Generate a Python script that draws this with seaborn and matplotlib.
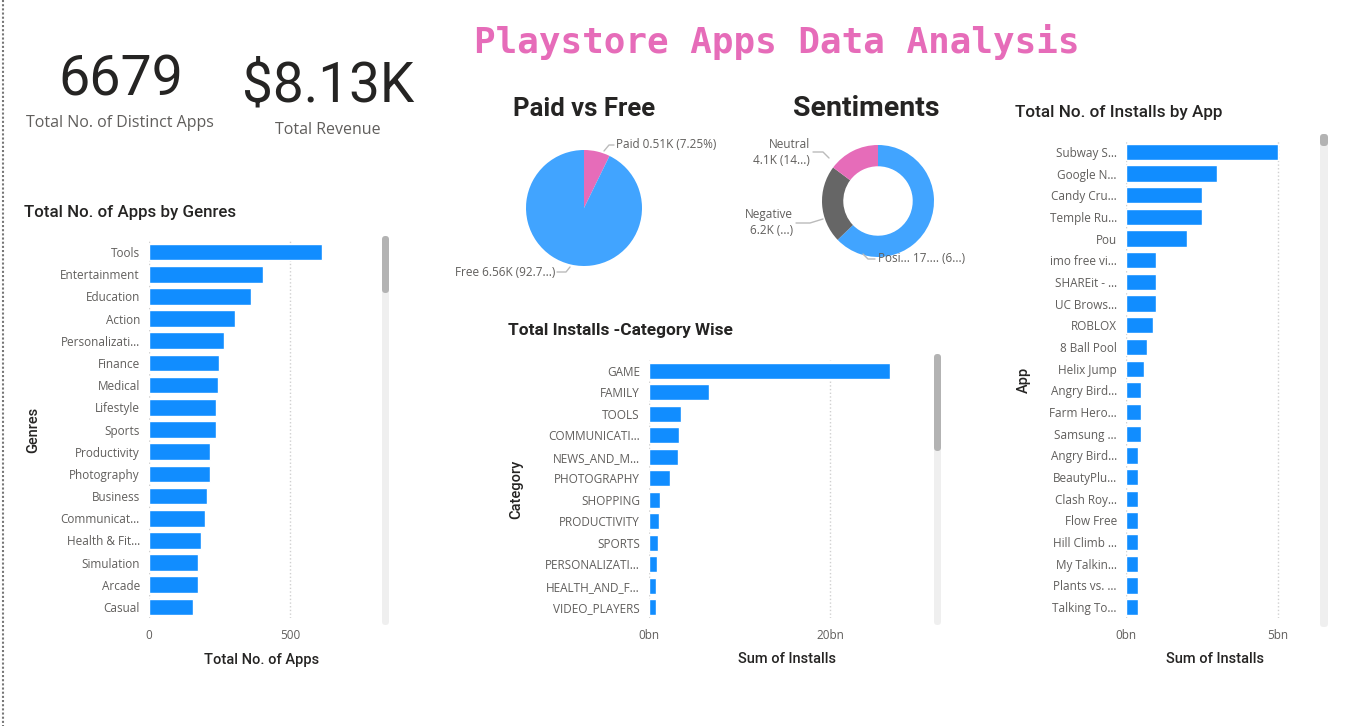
import numpy as np
import pandas as pd
import matplotlib
matplotlib.use('Agg')
import matplotlib.pyplot as plt
import seaborn as sns
from matplotlib.lines import Line2D
from matplotlib.patches import FancyBboxPatch

# ---- data ----
genres = ['Tools', 'Entertainment', 'Education', 'Action', 'Personalizati…', 'Finance', 'Medical',
          'Lifestyle', 'Sports', 'Productivity', 'Photography', 'Business', 'Communicat…',
          'Health & Fit…', 'Simulation', 'Arcade', 'Casual']
genre_apps = [611, 402, 360, 306, 264, 249, 246, 238, 237, 217, 215, 204, 197, 183, 175, 172, 155]

categories = ['GAME', 'FAMILY', 'TOOLS', 'COMMUNICATI…', 'NEWS_AND_M…', 'PHOTOGRAPHY', 'SHOPPING',
              'PRODUCTIVITY', 'SPORTS', 'PERSONALIZATI…', 'HEALTH_AND_F…', 'VIDEO_PLAYERS']
category_installs = [26.6, 6.6, 3.5, 3.3, 3.15, 2.35, 1.25, 1.15, 1.0, 0.9, 0.75, 0.75]  # bn

apps = ['Subway S…', 'Google N…', 'Candy Cru…', 'Temple Ru…', 'Pou', 'imo free vi…', 'SHAREit - …',
        'UC Brows…', 'ROBLOX', '8 Ball Pool', 'Helix Jump', 'Angry Bird…', 'Farm Hero…', 'Samsung …',
        'Angry Bird…', 'BeautyPlu…', 'Clash Roy…', 'Flow Free', 'Hill Climb …', 'My Talkin…',
        'Plants vs. …', 'Talking To…']
app_installs = [5.0, 3.0, 2.5, 2.5, 2.0, 1.0, 1.0, 1.0, 0.9, 0.7, 0.6, 0.5, 0.5, 0.5,
                0.4, 0.4, 0.4, 0.4, 0.4, 0.4, 0.4, 0.4]  # bn

pay_types = ['Paid', 'Free']
pay_counts = [0.513, 6.56]  # K

sentiments = ['Positive', 'Negative', 'Neutral']
sentiment_counts = [17.4, 6.2, 4.1]  # K

total_apps = '6679'
total_revenue = '$8.13K'

BLUE = '#118DFF'
PIE_BLUE = '#41A4FF'
PINK = '#E66CB9'
GREY = '#666666'
TXT = '#605E5C'
DARK = '#252423'

sns.set_theme(style='white')
plt.rcParams['font.family'] = ['Open Sans', 'DejaVu Sans']

W, H = 1345, 726
fig = plt.figure(figsize=(W / 100, H / 100), dpi=100)
fig.patch.set_facecolor('white')


def box(l, t, r, b):
    return [l / W, 1 - b / H, (r - l) / W, (b - t) / H]


def ftext(x, y, s, **kw):
    fig.text(x / W, 1 - y / H, s, **kw)


def fline(xs, ys, **kw):
    fig.add_artist(Line2D([x / W for x in xs], [1 - y / H for y in ys],
                          transform=fig.transFigure, **kw))


def scrollbar(x0, x1, top, bottom, thumb_bottom):
    for t, b, c in [(top, bottom, '#EFEFEF'), (top, thumb_bottom, '#B3B3B3')]:
        p = FancyBboxPatch((x0 / 100, (H - b) / 100), (x1 - x0) / 100, (b - t) / 100,
                           boxstyle='round,pad=0,rounding_size=0.035',
                           transform=fig.dpi_scale_trans, facecolor=c, edgecolor='none')
        fig.add_artist(p)


def hbar(rect, values, labels, xmax, ticks, fmt, xlabel, ylabel, ylab_dx, xlab_dy):
    ax = fig.add_axes(rect)
    df = pd.DataFrame({'pos': range(len(values)), 'val': values})
    sns.barplot(data=df, x='val', y='pos', orient='h', color=BLUE, saturation=1,
                width=0.75, errorbar=None, ax=ax)
    ax.set_yticks(range(len(labels)))
    ax.set_yticklabels(labels)
    ax.set_xlim(0, xmax)
    ax.set_xticks(ticks)
    ax.set_xticklabels([fmt(t) for t in ticks])
    ax.tick_params(axis='both', length=0, labelcolor=TXT, labelsize=8.5)
    ax.tick_params(axis='y', pad=6.5)
    ax.tick_params(axis='x', pad=8)
    ax.grid(axis='x', linestyle=':', color='#D0D0D0', linewidth=1)
    ax.set_axisbelow(True)
    for s in ax.spines.values():
        s.set_visible(False)
    ax.set_xlabel(xlabel, fontsize=10.5, color=DARK, family='Roboto', fontweight='medium')
    ax.set_ylabel(ylabel, fontsize=10.5, color=DARK, family='Roboto', fontweight='medium')
    ax.xaxis.set_label_coords(0.5, xlab_dy)
    ax.yaxis.set_label_coords(ylab_dx, 0.5)
    return ax


# ---- header ----
ftext(777, 42, 'Playstore Apps Data Analysis', family='DejaVu Sans Mono', fontweight='bold',
      fontsize=25.8, color=PINK, ha='center', va='center')
fline([3, 3], [0, H], color='#777777', linewidth=1.5, linestyle=(0, (1, 1)))

# ---- KPI cards ----
ftext(121, 80, total_apps, family='Roboto', fontsize=40, color=DARK, ha='center', va='center')
ftext(120, 123, 'Total No. of Distinct Apps', fontsize=11.5, color=TXT, ha='center', va='center')
ftext(328, 86, total_revenue, family='Roboto', fontsize=39.5, color=DARK, ha='center', va='center')
ftext(328, 130, 'Total Revenue', fontsize=11.5, color=TXT, ha='center', va='center')

# ---- bar charts ----
ftext(24, 212, 'Total No. of Apps by Genres', family='Roboto', fontweight='medium',
      fontsize=12.2, color=DARK, ha='left', va='center')
hbar(box(149, 241, 375, 618), genre_apps, genres, 800, [0, 500], lambda v: f'{v:.0f}',
     'Total No. of Apps', 'Genres', -0.48, -0.092)
scrollbar(382, 389, 236, 625, 293)

ftext(508, 331, 'Total Installs -Category Wise', family='Roboto', fontweight='bold',
      fontsize=12.4, color=DARK, ha='left', va='center')
hbar(box(649, 360, 925, 618), category_installs, categories, 30.5, [0, 20], lambda v: f'{v:.0f}bn',
     'Sum of Installs', 'Category', -0.455, -0.131)
scrollbar(934, 941, 354, 625, 451)

ftext(1015, 112, 'Total No. of Installs by App', family='Roboto', fontweight='medium',
      fontsize=12.3, color=DARK, ha='left', va='center')
hbar(box(1126, 141, 1305, 618), app_installs, apps, 5.9, [0, 5], lambda v: f'{v:.0f}bn',
     'Sum of Installs', 'App', -0.53, -0.072)
scrollbar(1320, 1328, 134, 627, 146)

# ---- pie: Paid vs Free ----
ftext(584, 109, 'Paid vs Free', family='Roboto', fontweight='bold', fontsize=18.5,
      color=DARK, ha='center', va='center')
r = 58
ax = fig.add_axes(box(584 - r, 208 - r, 584 + r, 208 + r))
ax.pie(pay_counts, colors=[PINK, PIE_BLUE], startangle=90, counterclock=False,
       wedgeprops=dict(linewidth=0))
ax.set_xlim(-1, 1)
ax.set_ylim(-1, 1)
ax.axis('off')
total = sum(pay_counts)
ftext(616, 145, f'{pay_types[0]} {pay_counts[0]:.2f}K ({pay_counts[0] / total * 100:.2f}%)',
      fontsize=8.5, color=TXT, ha='left', va='center')
fline([604, 609, 614], [151, 145, 145], color='#BBBBBB', linewidth=1)
ftext(555, 273, f'{pay_types[1]} {pay_counts[1]:.2f}K (92.7...)',
      fontsize=8.5, color=TXT, ha='right', va='center')
fline([557, 566, 570], [272, 272, 267], color='#BBBBBB', linewidth=1)

# ---- donut: Sentiments ----
ftext(866, 108, 'Sentiments', family='Roboto', fontweight='bold', fontsize=20.5,
      color=DARK, ha='center', va='center')
r = 56
ax = fig.add_axes(box(878 - r, 201 - r, 878 + r, 201 + r))
ax.pie(sentiment_counts, colors=[PIE_BLUE, GREY, PINK], startangle=90, counterclock=False,
       wedgeprops=dict(width=0.38, linewidth=0))
ax.set_xlim(-1, 1)
ax.set_ylim(-1, 1)
ax.axis('off')
ftext(810, 145, sentiments[2], fontsize=8.5, color=TXT, ha='right', va='center')
ftext(810, 160, f'{sentiment_counts[2]:.1f}K (14...)', fontsize=8.5, color=TXT, ha='right', va='center')
fline([813, 823, 829], [152, 152, 158], color='#BBBBBB', linewidth=1)
ftext(793, 215, sentiments[1], fontsize=8.5, color=TXT, ha='right', va='center')
ftext(793, 231, f'{sentiment_counts[1]:.1f}K (...)', fontsize=8.5, color=TXT, ha='right', va='center')
fline([796, 810, 823], [223, 223, 219], color='#BBBBBB', linewidth=1)
ftext(878, 259, 'Posi... 17.... (6...)', fontsize=8.5, color=TXT, ha='left', va='center')
fline([863, 868, 875], [254, 259, 259], color='#BBBBBB', linewidth=1)

fig.savefig('out.png', dpi=100)
